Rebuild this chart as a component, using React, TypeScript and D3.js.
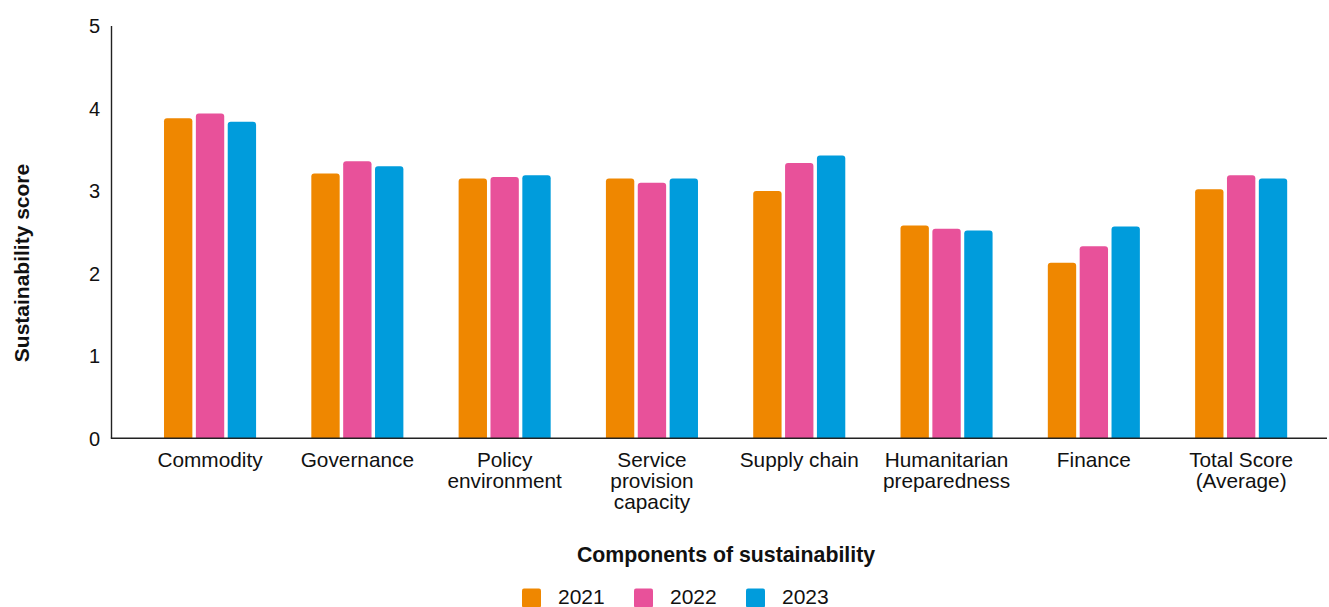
import React from "react";
import * as d3 from "d3";

const categories = [
  ["Commodity"],
  ["Governance"],
  ["Policy", "environment"],
  ["Service", "provision", "capacity"],
  ["Supply chain"],
  ["Humanitarian", "preparedness"],
  ["Finance"],
  ["Total Score", "(Average)"],
];
const years = ["2021", "2022", "2023"];
const values2021 = [3.88, 3.21, 3.15, 3.15, 3.0, 2.58, 2.13, 3.02];
const values2022 = [3.94, 3.36, 3.17, 3.1, 3.34, 2.54, 2.33, 3.19];
const values2023 = [3.84, 3.3, 3.19, 3.15, 3.43, 2.52, 2.57, 3.15];
const yTicks = [0, 1, 2, 3, 4, 5];
const colors = ["#EF8700", "#E8519A", "#009CDC"];

const FONT = "'Liberation Sans', Arial, Helvetica, sans-serif";

function topRoundedRect(x: number, y: number, w: number, h: number, r: number) {
  const rr = Math.min(r, h, w / 2);
  return `M${x},${y + h}V${y + rr}Q${x},${y} ${x + rr},${y}H${x + w - rr}Q${x + w},${y} ${x + w},${y + rr}V${y + h}Z`;
}

export default function App() {
  const W = 1329;
  const H = 607;
  const axisLeft = 111.5;
  const axisRight = 1327;
  const y0 = 438.3;
  const yTop = 26;

  const y = d3.scaleLinear().domain([0, 5]).range([y0, yTop]);
  const labels = categories.map((c) => c.join(" "));
  const x = d3
    .scaleBand<string>()
    .domain(labels)
    .range([136.4, 1314.8])
    .paddingInner(0.375)
    .paddingOuter(0.1875);
  const xs = d3.scaleBand<string>().domain(years).range([0, x.bandwidth()]).paddingInner(0.11);

  const series = [values2021, values2022, values2023];

  return (
    <svg
      width={W}
      height={H}
      style={{ position: "absolute", left: 0, top: 0, display: "block", background: "#fff" }}
      fontFamily={FONT}
    >
      {/* bars */}
      {labels.map((lab, i) => (
        <g key={lab} transform={`translate(${x(lab)},0)`}>
          {series.map((s, k) => {
            const bx = xs(years[k])!;
            const by = y(s[i]);
            return (
              <path
                key={k}
                d={topRoundedRect(bx, by, xs.bandwidth(), y0 - by, 3)}
                fill={colors[k]}
              />
            );
          })}
        </g>
      ))}

      {/* axes */}
      <line x1={axisLeft} x2={axisLeft} y1={yTop} y2={y0} stroke="#222" strokeWidth={1.4} />
      <line x1={axisLeft - 0.7} x2={axisRight} y1={y0} y2={y0} stroke="#222" strokeWidth={1.4} />

      {/* y ticks */}
      {yTicks.map((t) => (
        <text
          key={t}
          x={100}
          y={y(t)}
          dy="0.36em"
          textAnchor="end"
          fontSize={20}
          fill="#111"
        >
          {t}
        </text>
      ))}

      {/* category labels */}
      {categories.map((lines, i) => {
        const cx = x(labels[i])! + x.bandwidth() / 2;
        return (
          <text key={i} textAnchor="middle" fontSize={20.8} fill="#111">
            {lines.map((ln, j) => (
              <tspan key={j} x={cx} y={467 + j * 21}>
                {ln}
              </tspan>
            ))}
          </text>
        );
      })}

      {/* axis titles */}
      <text
        transform={`translate(29,263) rotate(-90)`}
        textAnchor="middle"
        fontSize={21}
        fontWeight="bold"
        fill="#111"
      >
        Sustainability score
      </text>
      <text x={726} y={562} textAnchor="middle" fontSize={21.3} fontWeight="bold" fill="#111">
        Components of sustainability
      </text>

      {/* legend */}
      {years.map((yr, k) => {
        const lx = [522, 634, 746][k];
        return (
          <g key={yr}>
            <rect x={lx} y={588.5} width={19} height={19} rx={2} fill={colors[k]} />
            <text x={lx + 36} y={604} fontSize={21} fill="#111">
              {yr}
            </text>
          </g>
        );
      })}
    </svg>
  );
}
